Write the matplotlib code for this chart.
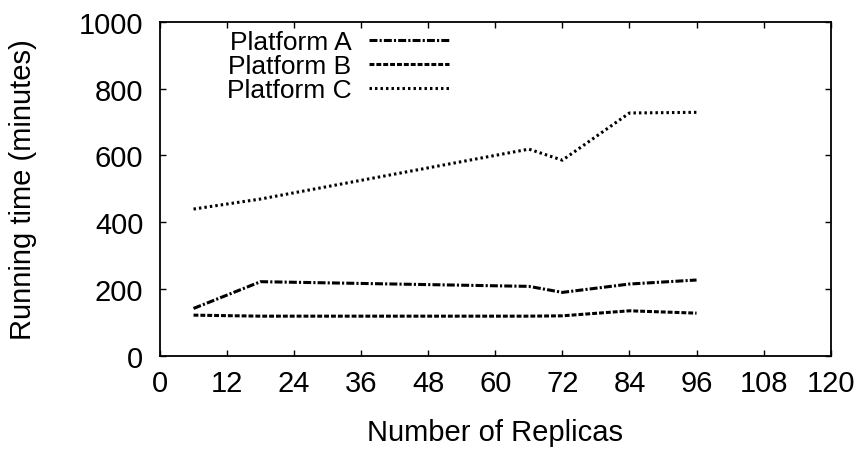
import matplotlib
matplotlib.use("Agg")
import matplotlib.pyplot as plt

plt.rcParams['font.family'] = ['Liberation Sans', 'DejaVu Sans']

# replica counts and running times (minutes)
replicas = [6, 18, 66, 72, 84, 96]
platform_a = [143, 223, 209, 191, 216, 228]
platform_b = [123, 120, 120, 121, 136, 129]
platform_c = [440, 470, 619, 586, 727, 729]

xticks = [0, 12, 24, 36, 48, 60, 72, 84, 96, 108, 120]
yticks = [0, 200, 400, 600, 800, 1000]

fig = plt.figure(figsize=(8.61, 4.56), dpi=100)
ax = fig.add_axes([0.1858, 0.2164, 0.779, 0.734])

lw = 2.2
ax.plot(replicas, platform_a, color='black', lw=lw, linestyle=(0, (2.6, 0.7, 0.7, 0.7)), label='Platform A')
ax.plot(replicas, platform_b, color='black', lw=lw, linestyle=(0, (1.6, 0.65)), label='Platform B')
ax.plot(replicas, platform_c, color='black', lw=lw, linestyle=(0, (0.8, 1.0)), label='Platform C')

ax.set_xlim(0, 120)
ax.set_ylim(0, 1000)
ax.set_xticks(xticks)
ax.set_yticks(yticks)
ax.tick_params(direction='in', length=4.5, width=1, labelsize=21, top=True, right=True)
ax.tick_params(axis='x', pad=9)
ax.tick_params(axis='y', pad=12)
for s in ax.spines.values():
    s.set_linewidth(1.3)

ax.set_xlabel('Number of Replicas', fontsize=21)
ax.set_ylabel('Running time (minutes)', fontsize=21)
ax.xaxis.set_label_coords(0.5, -0.185)
ax.yaxis.set_label_coords(-0.183, 0.5)

# gnuplot-style key: label first, sample line after, rows packed tight
ax.legend(loc='upper right', bbox_to_anchor=(0.45, 1.015), frameon=False, markerfirst=False,
          fontsize=19, handlelength=3.0, handletextpad=0.68, labelspacing=0.0,
          borderaxespad=0.1)

fig.savefig('out.png', dpi=100)
